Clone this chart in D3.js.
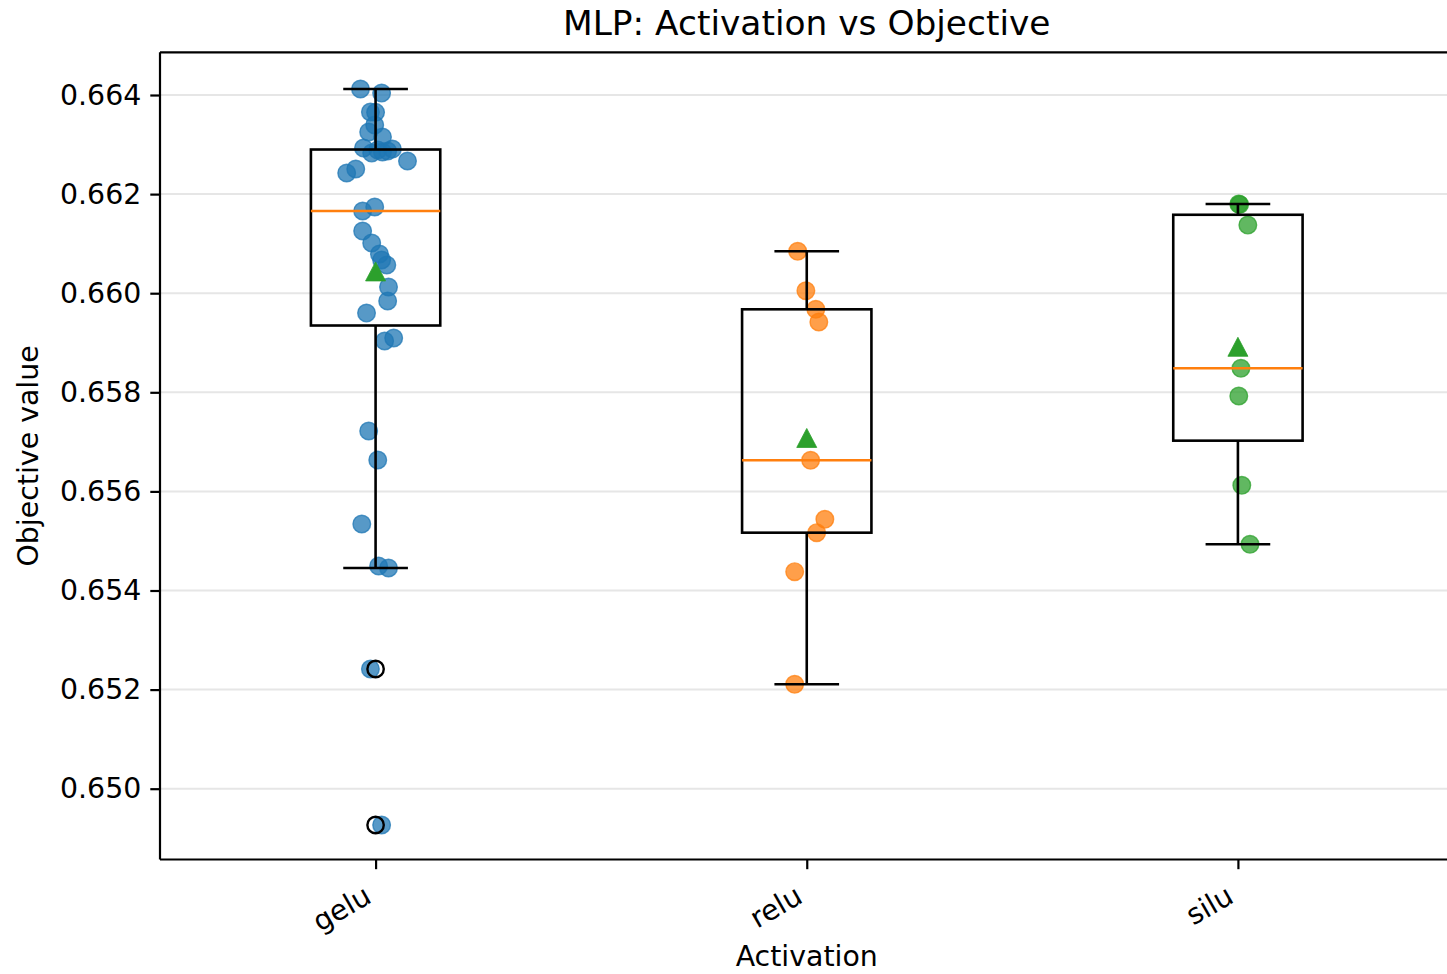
<!DOCTYPE html>
<html>
<head>
<meta charset="utf-8">
<script src="https://cdn.jsdelivr.net/npm/d3@7"></script>
<style>
  html, body { margin: 0; padding: 0; background: #ffffff; }
  svg { display: block; font-family: "DejaVu Sans", sans-serif; }
</style>
</head>
<body>
<svg id="chart" width="1447" height="974"></svg>
<script>
// Activation functions on the x axis
const categories = ["gelu", "relu", "silu"];

// Objective value of every trial, per activation
const geluValues = [
  0.649267, 0.652416, 0.654454, 0.654494, 0.655342, 0.656634, 0.657219,
  0.659035, 0.659096, 0.659600, 0.659843, 0.660125, 0.660569, 0.660670,
  0.660791, 0.661013, 0.661255, 0.661659, 0.661740, 0.662426, 0.662507,
  0.662668, 0.662829, 0.662850, 0.662870, 0.662890, 0.662910, 0.662930,
  0.663152, 0.663253, 0.663395, 0.663657, 0.663650, 0.664040, 0.664121
];
const reluValues = [
  0.660846, 0.660050, 0.659675, 0.659419, 0.656628,
  0.655437, 0.655167, 0.654379, 0.652107
];
const siluValues = [
  0.661800, 0.661790, 0.661376, 0.658484, 0.657925, 0.656123, 0.654932
];

// Horizontal jitter of each point, in category widths
const geluJitter = [
  0.014, -0.012, 0.030, 0.007, -0.032, 0.005, -0.016,
  0.021, 0.042, -0.021, 0.028, 0.030, 0.026, 0.014,
  0.009, -0.009, -0.030, -0.030, -0.002, -0.067, -0.046,
  0.074, -0.009, 0.016, 0.028, 0.005, 0.039, -0.028,
  0.016, -0.016, -0.002, -0.012, 0.000, 0.014, -0.035
];
const reluJitter = [-0.021, -0.002, 0.021, 0.028, 0.009, 0.042, 0.023, -0.028, -0.028];
const siluJitter = [0.002, 0.004, 0.023, 0.007, 0.002, 0.009, 0.028];

// Y axis tick values
const yTicks = [0.650, 0.652, 0.654, 0.656, 0.658, 0.660, 0.662, 0.664];

const seriesValues = [geluValues, reluValues, siluValues];
const seriesJitter = [geluJitter, reluJitter, siluJitter];
const pointColors = ["#1f77b4", "#ff7f0e", "#2ca02c"];

const svg = d3.select("#chart");
const width = 1447, height = 974;
svg.append("rect").attr("width", width).attr("height", height).attr("fill", "#ffffff");

const plot = { left: 160, right: 1453.5, top: 52.3, bottom: 859.5 };

const x = d3.scalePoint().domain(categories).range([plot.left, plot.right]).padding(0.5);
const step = x.step();
const y = d3.scaleLinear().domain([0.648571, 0.664862]).range([plot.bottom, plot.top]);

const g = svg.append("g");

// Grid lines
g.append("g").selectAll("line").data(yTicks).join("line")
  .attr("x1", plot.left).attr("x2", plot.right)
  .attr("y1", d => y(d)).attr("y2", d => y(d))
  .attr("stroke", "#e6e6e6").attr("stroke-width", 2);

// Box statistics (Tukey whiskers at 1.5 IQR)
function boxStats(values) {
  const s = values.slice().sort(d3.ascending);
  const q1 = d3.quantile(s, 0.25), med = d3.quantile(s, 0.5), q3 = d3.quantile(s, 0.75);
  const iqr = q3 - q1;
  const lo = q1 - 1.5 * iqr, hi = q3 + 1.5 * iqr;
  const inside = s.filter(v => v >= lo && v <= hi);
  return {
    q1, med, q3,
    whiskLo: d3.min(inside), whiskHi: d3.max(inside),
    fliers: s.filter(v => v < lo || v > hi),
    mean: d3.mean(s)
  };
}

// Jittered trial points
categories.forEach((cat, i) => {
  const pts = seriesValues[i].map((v, k) => ({ v, j: seriesJitter[i][k] }));
  g.append("g").selectAll("circle").data(pts).join("circle")
    .attr("cx", d => x(cat) + d.j * step)
    .attr("cy", d => y(d.v))
    .attr("r", 8.8)
    .attr("fill", pointColors[i]).attr("fill-opacity", 0.75)
    .attr("stroke", pointColors[i]).attr("stroke-opacity", 0.75).attr("stroke-width", 1.4);
});

// Box plots
const boxW = 0.3 * step, capW = 0.15 * step, lw = 2.6;
categories.forEach((cat, i) => {
  const st = boxStats(seriesValues[i]);
  const cx = x(cat);
  const bg = g.append("g");
  // whiskers
  bg.append("line").attr("x1", cx).attr("x2", cx).attr("y1", y(st.q3)).attr("y2", y(st.whiskHi))
    .attr("stroke", "#000").attr("stroke-width", lw);
  bg.append("line").attr("x1", cx).attr("x2", cx).attr("y1", y(st.q1)).attr("y2", y(st.whiskLo))
    .attr("stroke", "#000").attr("stroke-width", lw);
  // caps
  [st.whiskHi, st.whiskLo].forEach(v => {
    bg.append("line").attr("x1", cx - capW / 2).attr("x2", cx + capW / 2)
      .attr("y1", y(v)).attr("y2", y(v))
      .attr("stroke", "#000").attr("stroke-width", lw);
  });
  // box
  bg.append("rect").attr("x", cx - boxW / 2).attr("width", boxW)
    .attr("y", y(st.q3)).attr("height", y(st.q1) - y(st.q3))
    .attr("fill", "none").attr("stroke", "#000").attr("stroke-width", lw);
  // median
  bg.append("line").attr("x1", cx - boxW / 2).attr("x2", cx + boxW / 2)
    .attr("y1", y(st.med)).attr("y2", y(st.med))
    .attr("stroke", "#ff7f0e").attr("stroke-width", lw);
  // fliers
  bg.selectAll("circle.flier").data(st.fliers).join("circle")
    .attr("class", "flier")
    .attr("cx", cx).attr("cy", d => y(d)).attr("r", 8.2)
    .attr("fill", "none").attr("stroke", "#000").attr("stroke-width", 2.4);
  // mean marker
  const my = y(st.mean);
  bg.append("path")
    .attr("d", `M${cx},${my - 9.5}L${cx - 10},${my + 9.5}L${cx + 10},${my + 9.5}Z`)
    .attr("fill", "#2ca02c").attr("stroke", "#2ca02c").attr("stroke-width", 0.8);
});

// Frame
const frame = svg.append("g").attr("stroke", "#000").attr("stroke-width", 2.2).attr("fill", "none");
frame.append("line").attr("x1", plot.left).attr("x2", plot.right).attr("y1", plot.top).attr("y2", plot.top);
frame.append("line").attr("x1", plot.left).attr("x2", plot.right).attr("y1", plot.bottom).attr("y2", plot.bottom);
frame.append("line").attr("x1", plot.left).attr("x2", plot.left).attr("y1", plot.top).attr("y2", plot.bottom);
frame.append("line").attr("x1", plot.right).attr("x2", plot.right).attr("y1", plot.top).attr("y2", plot.bottom);

// Y axis
const yAxis = svg.append("g").attr("transform", `translate(${plot.left},0)`)
  .call(d3.axisLeft(y).tickValues(yTicks).tickFormat(d3.format(".3f")).tickSize(9.7).tickPadding(9))
  .call(a => a.select(".domain").remove());
yAxis.selectAll(".tick line").attr("stroke", "#000").attr("stroke-width", 2.2);
yAxis.selectAll(".tick text").attr("font-size", 28.4).attr("fill", "#000")
  .attr("font-family", "DejaVu Sans");

// X axis
const xAxis = svg.append("g").attr("transform", `translate(0,${plot.bottom})`)
  .call(d3.axisBottom(x).tickSize(9.7).tickPadding(0))
  .call(a => a.select(".domain").remove());
xAxis.selectAll(".tick line").attr("stroke", "#000").attr("stroke-width", 2.2);
xAxis.selectAll(".tick text")
  .attr("font-size", 28.4).attr("fill", "#000").attr("font-family", "DejaVu Sans")
  .attr("text-anchor", "end").attr("dy", null).attr("y", null)
  .attr("transform", "translate(-3,42) rotate(-30)");

// Titles
svg.append("text").attr("x", (plot.left + plot.right) / 2).attr("y", 35)
  .attr("text-anchor", "middle").attr("font-size", 34.4).attr("fill", "#000")
  .text("MLP: Activation vs Objective");
svg.append("text").attr("x", (plot.left + plot.right) / 2).attr("y", 966)
  .attr("text-anchor", "middle").attr("font-size", 28.4).attr("fill", "#000")
  .text("Activation");
svg.append("text")
  .attr("transform", `translate(38,${(plot.top + plot.bottom) / 2}) rotate(-90)`)
  .attr("text-anchor", "middle").attr("font-size", 28.4).attr("fill", "#000")
  .text("Objective value");
</script>
</body>
</html>
